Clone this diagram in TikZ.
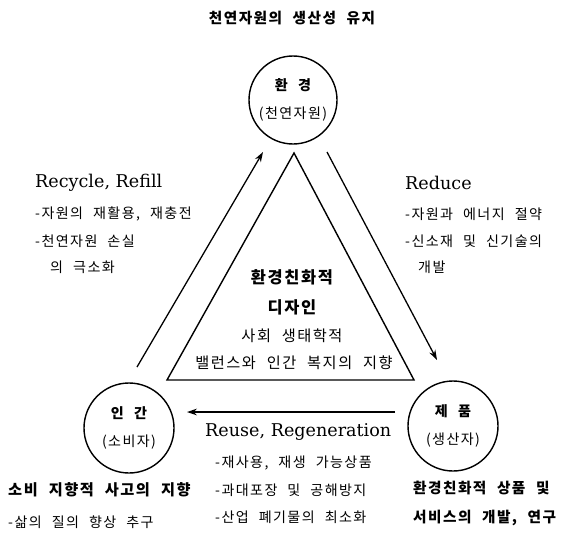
\documentclass[tikz,border=0pt]{standalone}
\usepackage{fontspec}
\setmainfont{DejaVu Serif}
\newfontfamily\kr{Noto Sans CJK KR}[LetterSpace=10,WordSpace=2.2]
\usepackage{tikz}
\usetikzlibrary{positioning,arrows.meta}

\begin{document}
\begin{tikzpicture}[
    x=0.03cm, y=-0.03cm,
    ring/.style={draw, circle, line width=1.2pt, minimum size=2.7cm, inner sep=0pt, align=center, font=\kr\fontsize{12}{14}\selectfont},
    flow/.style={line width=1.1pt, -{Stealth[length=3mm,width=2mm]}},
    head/.style={font=\kr\bfseries\fontsize{13}{15}\selectfont, inner sep=0pt},
    mid/.style={font=\kr\fontsize{13}{15}\selectfont, inner sep=0pt},
    item/.style={font=\kr\fontsize{12}{14}\selectfont, anchor=west, inner sep=0pt},
    eng/.style={font=\fontsize{15}{17}\selectfont, anchor=west, inner sep=0pt}
]
    \useasboundingbox (0,0) rectangle (568,533);

    \node[head, font=\kr\bfseries\fontsize{12.5}{15}\selectfont] (title) at (292,18) {천연자원의 생산성 유지};

    \node[ring, minimum size=2.64cm] (env) at (293,100) {{\bfseries 환 경}\\[10pt](천연자원)};
    \node[ring] (usr) at (129,428) {{\bfseries 인 간}\\[10pt](소비자)};
    \node[ring] (prd) at (453,426) {{\bfseries 제 품}\\[10pt](생산자)};

    \coordinate (apex) at (294,153);
    \coordinate (bl) at (167,380);
    \coordinate (br) at (414,380);
    \draw[line width=1.2pt] (apex) -- (bl) -- (br) -- cycle;

    \coordinate (l0) at (137,367);
    \coordinate (l1) at (263,152);
    \coordinate (r0) at (327,152);
    \coordinate (r1) at (437,360);
    \coordinate (b0) at (395,412);
    \coordinate (b1) at (187,412);
    \draw[flow] (l0) -- (l1);
    \draw[flow] (r0) -- (r1);
    \draw[flow] (b0) -- (b1);

    \node[eng] (rcy) at (35,183) {Recycle, Refill};
    \foreach \i/\y/\txt in {1/214/{-자원의 재활용, 재충전}, 2/241/{-천연자원 손실}} \node[item] (rcy-\i) at (35,\y) {\txt};
    \node[item] (rcy-3) at (50,267) {의 극소화};

    \node[eng] (rdc) at (405,183) {Reduce};
    \foreach \i/\y/\txt in {1/214/{-자원과 에너지 절약}, 2/241/{-신소재 및 신기술의}} \node[item] (rdc-\i) at (405,\y) {\txt};
    \node[item] (rdc-3) at (418,267) {개발};

    \node[head, font=\kr\bfseries\fontsize{14}{16}\selectfont] (dsn-1) at (292,277) {환경친화적};
    \node[head, font=\kr\bfseries\fontsize{14}{16}\selectfont] (dsn-2) at (292,307) {디자인};
    \node[mid] (dsn-3) at (292,336) {사회 생태학적};
    \node[mid] (dsn-4) at (294,363) {밸런스와 인간 복지의 지향};

    \node[eng] (rus) at (205,432) {Reuse, Regeneration};
    \foreach \i/\y/\txt in {1/463/{-재사용, 재생 가능상품}, 2/490/{-과대포장 및 공해방지}, 3/517/{-산업 폐기물의 최소화}} \node[item] (rus-\i) at (215,\y) {\txt};

    \node[head, anchor=west] (usr-1) at (8,490) {소비 지향적 사고의 지향};
    \node[item] (usr-2) at (8,522) {-삶의 질의 향상 추구};

    \node[head, anchor=west, font=\kr\bfseries\fontsize{12.5}{15}\selectfont] (prd-1) at (413,488) {환경친화적 상품 및};
    \node[head, anchor=west, font=\kr\bfseries\fontsize{12.5}{15}\selectfont] (prd-2) at (413,518) {서비스의 개발, 연구};
\end{tikzpicture}
\end{document}
